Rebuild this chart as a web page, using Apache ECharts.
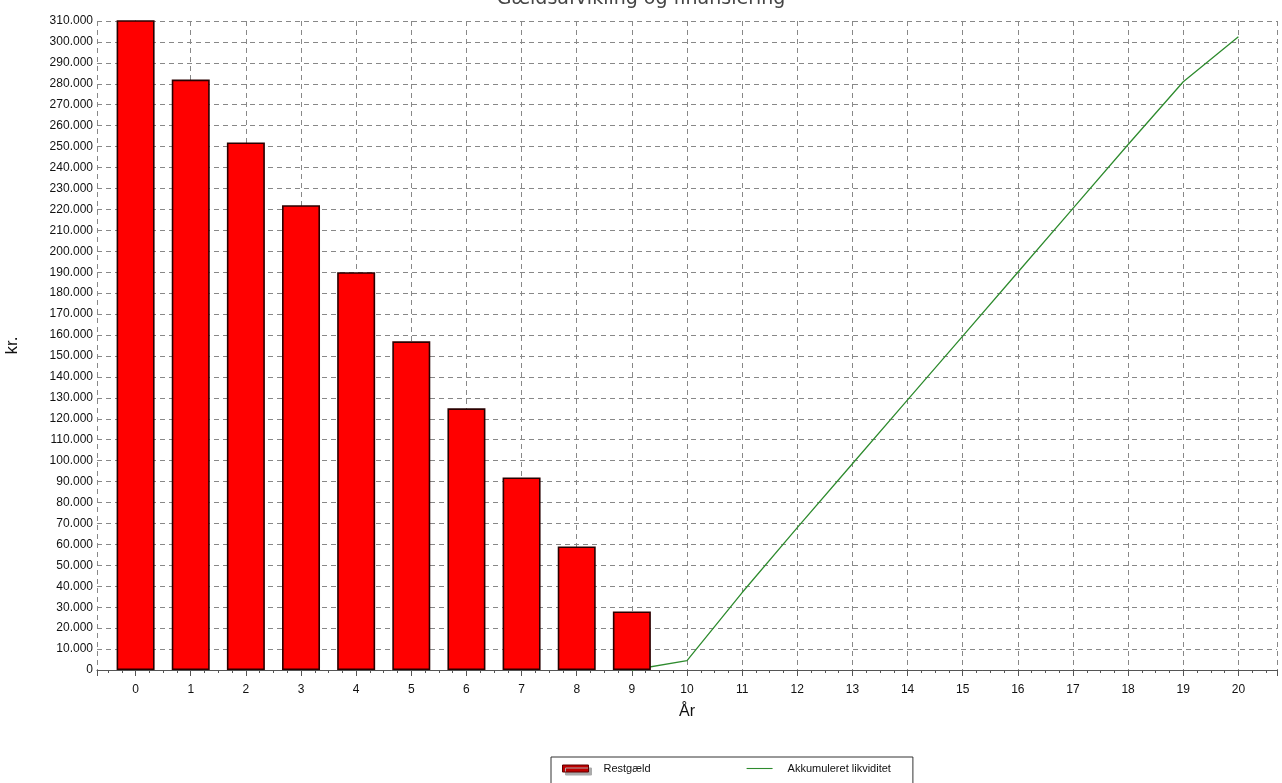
<!DOCTYPE html>
<html>
<head>
<meta charset="utf-8">
<script src="https://cdn.jsdelivr.net/npm/echarts@6/dist/echarts.min.js"></script>
<style>
html,body{margin:0;padding:0;background:#fff;}
#chart{width:1282px;height:783px;}
</style>
</head>
<body>
<div id="chart"></div>
<script>
var years = [0,1,2,3,4,5,6,7,8,9];
var restgaeld = [310500,282000,252000,222000,190000,157000,125000,92000,59000,28000];
var likvYears = [9,10,11,12,13,14,15,16,17,18,19,20];
var likviditet = [0,4500,37000,68000,98500,129000,159500,190000,220500,251000,281000,302500];
var titleText = 'Gældsafvikling og finansiering';
var seriesNames = ['Restgæld','Akkumuleret likviditet'];

function fmt(v){ return String(v).replace(/\B(?=(\d{3})+(?!\d))/g,'.'); }

var chart = echarts.init(document.getElementById('chart'));
var font = 'Liberation Sans, Arial, sans-serif';
chart.setOption({
  animation:false,
  backgroundColor:'#fff',
  title:{text:titleText,left:'center',top:-15,textStyle:{fontFamily:'DejaVu Sans',fontSize:19,fontWeight:'normal',color:'#444'}},
  grid:{left:97,right:5,top:21,bottom:113,containLabel:false,outerBoundsMode:'none'},
  legend:{
    left:551,top:757,width:350,
    borderColor:'#333',borderWidth:1,padding:[6,22,10,11],itemGap:96,
    itemWidth:26,itemHeight:7,
    textStyle:{fontFamily:font,fontSize:11,color:'#111',padding:[0,0,0,10]},
    data:[{name:seriesNames[0],icon:'rect',itemStyle:{color:'#c00000',borderColor:'#600000',borderWidth:1,shadowColor:'#aaa',shadowOffsetX:3,shadowOffsetY:3}},
          {name:seriesNames[1],icon:'path://M0,4L24,4L24,5L0,5Z'}]
  },
  xAxis:{
    type:'value',min:-0.7,max:20.7,splitNumber:21,minInterval:1,maxInterval:1,
    name:'År',nameLocation:'middle',nameGap:34,
    nameTextStyle:{fontFamily:font,fontSize:16,color:'#111'},
    axisLine:{show:true,lineStyle:{color:'#555',width:1}},
    axisTick:{show:true,length:6,lineStyle:{color:'#555'}},
    minorTick:{show:true,splitNumber:4,length:3,lineStyle:{color:'#555'}},
    axisLabel:{fontFamily:font,fontSize:12,color:'#111',margin:14,
      formatter:function(v){return Math.abs(v-Math.round(v))<1e-6?String(Math.round(v)):'';},
      showMinLabel:false,showMaxLabel:false},
    splitLine:{show:true,lineStyle:{color:'#888',type:[5,4],width:1}}
  },
  yAxis:{
    type:'value',min:0,max:310000,interval:10000,
    name:'kr.',nameLocation:'middle',nameGap:76,nameRotate:90,
    nameTextStyle:{fontFamily:font,fontSize:17,color:'#111'},
    axisLine:{show:true,lineStyle:{color:'#555',width:1}},
    axisTick:{show:true,length:8,lineStyle:{color:'#555'}},
    minorTick:{show:true,splitNumber:5,length:4,lineStyle:{color:'#777'}},
    axisLabel:{fontFamily:font,fontSize:12,color:'#111',margin:4,formatter:fmt},
    splitLine:{show:true,lineStyle:{color:'#888',type:[5,4],width:1}}
  },
  series:[
    {name:seriesNames[0],type:'bar',z:3,barWidth:38,
     data:years.map(function(x,i){return [x,restgaeld[i]];}),
     itemStyle:{color:'#ff0000',borderColor:'#2a0000',borderWidth:1.6}},
    {name:seriesNames[1],type:'line',z:2,symbol:'none',
     data:likvYears.map(function(x,i){return [x,likviditet[i]];}),
     lineStyle:{color:'#2e8b2e',width:1.3},itemStyle:{color:'#2e8b2e'}}
  ]
});
</script>
</body>
</html>
